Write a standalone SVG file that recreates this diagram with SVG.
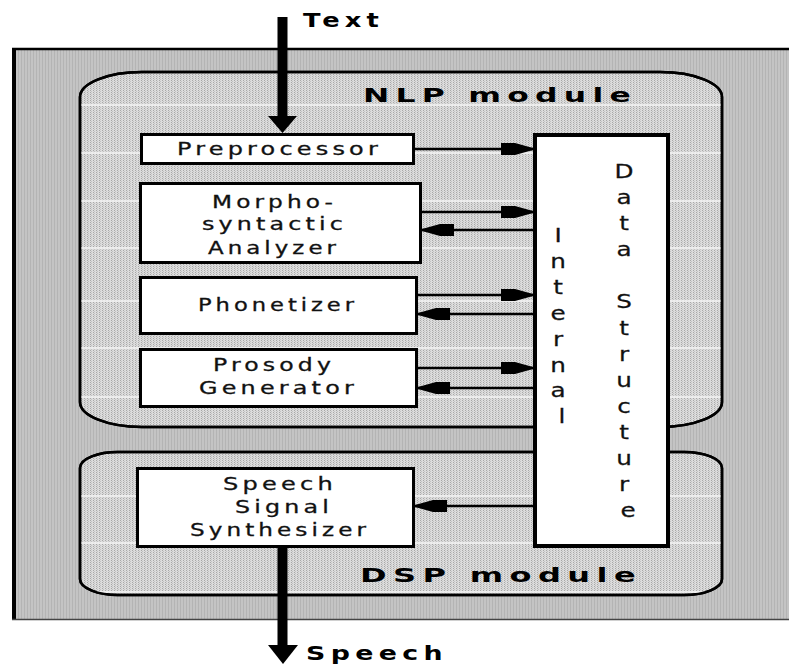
<svg xmlns="http://www.w3.org/2000/svg" width="789" height="665" viewBox="0 0 789 665">
  <defs>
    <style>
      .box { fill: #ffffff; stroke: #000000; stroke-width: 3; }
      .module { stroke: #000000; stroke-width: 2.5; fill: url(#moduleTex); }
      .grid { stroke: #f6f6f6; stroke-width: 1.5; }
      .lbl { font-family: "DejaVu Sans", "Liberation Sans", sans-serif; font-size: 17px; letter-spacing: 3px; fill: #111111; stroke: #111111; stroke-width: 0.3; }
      .vert { font-family: "DejaVu Sans", "Liberation Sans", sans-serif; font-size: 19px; fill: #111111; stroke: #111111; stroke-width: 0.25; text-anchor: middle; }
      .title { font-family: "DejaVu Sans", "Liberation Sans", sans-serif; font-weight: bold; font-size: 20px; letter-spacing: 4px; fill: #000000; }
      .link { stroke: #000000; stroke-width: 2.5; fill: none; marker-end: url(#head); }
      .bigline { stroke: #000000; stroke-width: 10; fill: none; }
    </style>
    <!-- vertical dotted texture of the outer frame -->
    <pattern id="outerTex" width="3" height="2" patternUnits="userSpaceOnUse">
      <rect width="3" height="2" fill="#c4c4c4"/>
      <rect x="0" y="0" width="1" height="2" fill="#b4b4b4"/>
    </pattern>
    <!-- lighter stippled texture of the modules -->
    <pattern id="moduleTex" width="3" height="2" patternUnits="userSpaceOnUse">
      <rect width="3" height="2" fill="#dcdcdc"/>
      <rect x="0" y="0" width="1" height="1" fill="#a8a8a8"/>
      <rect x="1" y="1" width="1" height="1" fill="#c2c2c2"/>
    </pattern>
    <marker id="head" markerWidth="34" markerHeight="14" refX="32" refY="7" orient="auto" markerUnits="userSpaceOnUse" viewBox="0 0 34 14">
      <path d="M0,1 L14,1 L32,6 L32,8 L14,13 L0,13 Z" fill="#000000"/>
    </marker>
    <clipPath id="nlpClip">
      <path d="M142,72 H660 A62 25 0 0 1 722,97 V402 A62 25 0 0 1 660,427 H142 A62 25 0 0 1 80,402 V97 A62 25 0 0 1 142,72 Z"/>
    </clipPath>
    <clipPath id="dspClip">
      <path d="M120,452 H684 A38 16 0 0 1 722,468 V579 A38 16 0 0 1 684,595 H120 A38 16 0 0 1 80,579 V468 A38 16 0 0 1 120,452 Z"/>
    </clipPath>
  </defs>

  <!-- outer system frame -->
  <g id="frame">
    <rect x="12" y="48" width="777" height="571" fill="url(#outerTex)"/>
    <line x1="12" y1="49" x2="789" y2="49" stroke="#000" stroke-width="2.5"/>
    <line x1="14" y1="48" x2="14" y2="620" stroke="#000" stroke-width="4"/>
    <line x1="12" y1="619.5" x2="789" y2="619.5" stroke="#444" stroke-width="1.5"/>
  </g>

  <!-- NLP module -->
  <g id="nlp-module">
    <path class="module" d="M142,72 H660 A62 25 0 0 1 722,97 V402 A62 25 0 0 1 660,427 H142 A62 25 0 0 1 80,402 V97 A62 25 0 0 1 142,72 Z"/>
    <g clip-path="url(#nlpClip)">
      <line class="grid" x1="80" y1="105" x2="722" y2="105"/>
      <line class="grid" x1="80" y1="153" x2="722" y2="153"/>
      <line class="grid" x1="80" y1="201" x2="722" y2="201"/>
      <line class="grid" x1="80" y1="248" x2="722" y2="248"/>
      <line class="grid" x1="80" y1="301" x2="722" y2="301"/>
      <line class="grid" x1="80" y1="348" x2="722" y2="348"/>
      <line class="grid" x1="80" y1="397" x2="722" y2="397"/>
    </g>
    <path d="M142,72 H660 A62 25 0 0 1 722,97 V402 A62 25 0 0 1 660,427 H142 A62 25 0 0 1 80,402 V97 A62 25 0 0 1 142,72 Z" fill="none" stroke="#000" stroke-width="2.5"/>
    <text class="title" x="363" y="102" textLength="274" lengthAdjust="spacingAndGlyphs">NLP module</text>
  </g>

  <!-- DSP module -->
  <g id="dsp-module">
    <path class="module" d="M120,452 H684 A38 16 0 0 1 722,468 V579 A38 16 0 0 1 684,595 H120 A38 16 0 0 1 80,579 V468 A38 16 0 0 1 120,452 Z"/>
    <g clip-path="url(#dspClip)">
      <line class="grid" x1="80" y1="496" x2="722" y2="496"/>
      <line class="grid" x1="80" y1="543" x2="722" y2="543"/>
      <line class="grid" x1="80" y1="592" x2="722" y2="592"/>
    </g>
    <path d="M120,452 H684 A38 16 0 0 1 722,468 V579 A38 16 0 0 1 684,595 H120 A38 16 0 0 1 80,579 V468 A38 16 0 0 1 120,452 Z" fill="none" stroke="#000" stroke-width="2.5"/>
    <text class="title" x="360" y="582" textLength="282" lengthAdjust="spacingAndGlyphs">DSP module</text>
  </g>

  <g id="preprocessor">
    <rect class="box" x="141.5" y="134.5" width="272" height="29"/>
    <text class="lbl" x="177" y="155" textLength="205" lengthAdjust="spacingAndGlyphs">Preprocessor</text>
  </g>

  <g id="morpho-syntactic-analyzer">
    <rect class="box" x="140.5" y="183.5" width="280" height="79"/>
    <text class="lbl" x="212" y="208" textLength="125" lengthAdjust="spacingAndGlyphs">Morpho-</text>
    <text class="lbl" x="202" y="230" textLength="145" lengthAdjust="spacingAndGlyphs">syntactic</text>
    <text class="lbl" x="208" y="254" textLength="132" lengthAdjust="spacingAndGlyphs">Analyzer</text>
  </g>

  <g id="phonetizer">
    <rect class="box" x="140.5" y="277.5" width="276" height="56"/>
    <text class="lbl" x="198" y="311" textLength="160" lengthAdjust="spacingAndGlyphs">Phonetizer</text>
  </g>

  <g id="prosody-generator">
    <rect class="box" x="140.5" y="349.5" width="276" height="57"/>
    <text class="lbl" x="213" y="371" textLength="122" lengthAdjust="spacingAndGlyphs">Prosody</text>
    <text class="lbl" x="199" y="394" textLength="159" lengthAdjust="spacingAndGlyphs">Generator</text>
  </g>

  <g id="speech-signal-synthesizer">
    <rect class="box" x="137.5" y="468.5" width="276" height="78"/>
    <text class="lbl" x="223" y="490" textLength="114" lengthAdjust="spacingAndGlyphs">Speech</text>
    <text class="lbl" x="235" y="513" textLength="98" lengthAdjust="spacingAndGlyphs">Signal</text>
    <text class="lbl" x="190" y="536" textLength="180" lengthAdjust="spacingAndGlyphs">Synthesizer</text>
  </g>

  <g id="internal-data-structure">
    <rect x="535" y="135" width="133" height="411" fill="#ffffff" stroke="#000" stroke-width="4"/>
    <text class="vert" transform="translate(562,0) scale(1.3,1)">
      <tspan x="0" y="242">I</tspan>
      <tspan x="0" y="268">n</tspan>
      <tspan x="0" y="294">t</tspan>
      <tspan x="0" y="320">e</tspan>
      <tspan x="0" y="346">r</tspan>
      <tspan x="0" y="372">n</tspan>
      <tspan x="0" y="397">a</tspan>
      <tspan x="0" y="423">l</tspan>
    </text>
    <text class="vert" transform="translate(628,0) scale(1.3,1)">
      <tspan x="0" y="178">D</tspan>
      <tspan x="0" y="204">a</tspan>
      <tspan x="0" y="230">t</tspan>
      <tspan x="0" y="256">a</tspan>
      <tspan x="0" y="308">S</tspan>
      <tspan x="0" y="335">t</tspan>
      <tspan x="0" y="361">r</tspan>
      <tspan x="0" y="387">u</tspan>
      <tspan x="0" y="413">c</tspan>
      <tspan x="0" y="439">t</tspan>
      <tspan x="0" y="465">u</tspan>
      <tspan x="0" y="491">r</tspan>
      <tspan x="0" y="517">e</tspan>
    </text>
  </g>

  <g id="connectors">
    <line class="link" x1="415" y1="149" x2="533" y2="149"/>
    <line class="link" x1="422" y1="212" x2="533" y2="212"/>
    <line class="link" x1="533" y1="230" x2="422" y2="230"/>
    <line class="link" x1="418" y1="295" x2="533" y2="295"/>
    <line class="link" x1="533" y1="314" x2="418" y2="314"/>
    <line class="link" x1="418" y1="368" x2="533" y2="368"/>
    <line class="link" x1="533" y1="388" x2="418" y2="388"/>
    <line class="link" x1="533" y1="506" x2="415" y2="506"/>
    <!-- text input -->
    <line class="bigline" x1="282.5" y1="17" x2="282.5" y2="120"/>
    <polygon points="268,116 297,116 282.5,133" fill="#000"/>
    <!-- speech output -->
    <line class="bigline" x1="282.5" y1="547" x2="282.5" y2="650"/>
    <polygon points="268,645 298,645 283,664" fill="#000"/>
  </g>

  <g id="io-labels">
    <text class="title" x="303" y="27" textLength="81" lengthAdjust="spacingAndGlyphs">Text</text>
    <text class="title" x="306" y="660" textLength="142" lengthAdjust="spacingAndGlyphs">Speech</text>
  </g>
</svg>
